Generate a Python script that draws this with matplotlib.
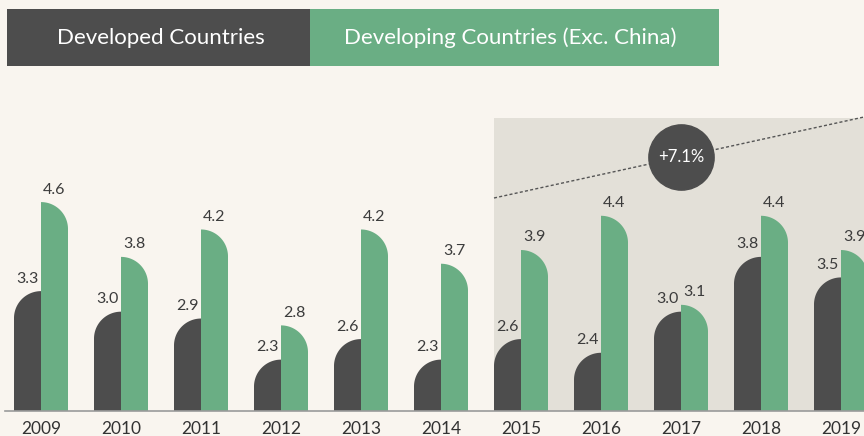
import numpy as np
import matplotlib
matplotlib.use("Agg")
import matplotlib.pyplot as plt
from matplotlib.patches import Polygon, Rectangle

years = ["2009", "2010", "2011", "2012", "2013", "2014", "2015", "2016", "2017", "2018", "2019"]
developed = [3.3, 3.0, 2.9, 2.3, 2.6, 2.3, 2.6, 2.4, 3.0, 3.8, 3.5]
developing = [4.6, 3.8, 4.2, 2.8, 4.2, 3.7, 3.9, 4.4, 3.1, 4.4, 3.9]
series_names = ["Developed Countries", "Developing Countries (Exc. China)"]
growth_label = "+7.1%"

BG = "#f9f5ef"
SHADE = "#e3e0d8"
DARK = "#4d4d4d"
GREEN = "#6aae84"
TXT = "#3c3c3c"

plt.rcParams['font.family'] = ['Lato', 'DejaVu Sans']

W, H = 864, 436
fig = plt.figure(figsize=(W / 100, H / 100), dpi=100, facecolor=BG)

base_px = 411
px_per_unit = 68.5
base_val = 1.55
ax = fig.add_axes([0, 1 - base_px / H, 1, base_px / H])
ax.set_facecolor(BG)
x_first_px = 41
group_px = 80
ax.set_xlim(-x_first_px / group_px, (W - x_first_px) / group_px)
ax.set_ylim(base_val, base_val + base_px / px_per_unit)
for s in ax.spines.values():
    s.set_visible(False)
ax.set_yticks([])

bw = 27 / group_px
ry = 27 / px_per_unit

# shaded region
shade_x0 = 6 - bw
shade_top = base_val + (base_px - 118) / px_per_unit
ax.add_patch(Rectangle((shade_x0, base_val), 20, shade_top - base_val,
                       facecolor=SHADE, edgecolor="none", zorder=0))

# dashed trend line
x_end = (W - x_first_px) / group_px
y0 = base_val + (base_px - 198) / px_per_unit
y1 = base_val + (base_px - 117) / px_per_unit
ax.plot([shade_x0, x_end], [y0, y1], linestyle=(0, (2.2, 1.6)), color="#555555",
        lw=1.0, zorder=1)
cx = 8.0
cy = y0 + (y1 - y0) * (cx - shade_x0) / (x_end - shade_x0)
ax.plot([cx], [cy], 'o', ms=47, color=DARK, zorder=2)
ax.text(cx, cy, growth_label, color="white", fontsize=12, ha="center", va="center", zorder=3)

t = np.linspace(0, np.pi / 2, 40)
for i, (d, g) in enumerate(zip(developed, developing)):
    # developed: rounded top-left
    xr = i
    cxl, cyl = xr, d - ry
    arc = [(cxl - bw * np.cos(a), cyl + ry * np.sin(a)) for a in t]
    pts = [(xr - bw, base_val)] + arc + [(xr, d), (xr, base_val)]
    ax.add_patch(Polygon(pts, closed=True, facecolor=DARK, edgecolor="none", zorder=3))
    # developing: rounded top-right
    cxr, cyr = i, g - ry
    arc = [(cxr + bw * np.sin(a), cyr + ry * np.cos(a)) for a in t]
    pts = [(i, base_val), (i, g)] + arc + [(i + bw, base_val)]
    ax.add_patch(Polygon(pts, closed=True, facecolor=GREEN, edgecolor="none", zorder=3))
    ax.annotate(f"{d:.1f}", (i - bw / 2, d), xytext=(0, 4), textcoords="offset points",
                ha="center", va="bottom", fontsize=11.5, color=TXT, zorder=4)
    ax.annotate(f"{g:.1f}", (i + bw / 2, g), xytext=(0, 4), textcoords="offset points",
                ha="center", va="bottom", fontsize=11.5, color=TXT, zorder=4)

# baseline
ax.axhline(base_val, xmin=5 / W, xmax=1, color="#9a9a9a", lw=1.2, zorder=5, clip_on=False)

ax.set_xticks(range(len(years)))
ax.set_xticklabels(years, fontsize=12.5, color="#333333")
ax.tick_params(axis="x", length=0, pad=7)

# legend boxes (figure pixel coordinates)
def fig_rect(x0, y0, x1, y1, color):
    fig.patches.append(Rectangle((x0 / W, 1 - y1 / H), (x1 - x0) / W, (y1 - y0) / H,
                                 transform=fig.transFigure, facecolor=color,
                                 edgecolor="none", zorder=0))

fig_rect(7, 9, 310, 66, DARK)
fig_rect(310, 9, 719, 66, GREEN)
fig.text(161 / W, 1 - 38 / H, series_names[0], color="white", fontsize=16,
         ha="center", va="center")
fig.text(510 / W, 1 - 38 / H, series_names[1], color="white", fontsize=16,
         ha="center", va="center")

fig.savefig("out.png", dpi=100, facecolor=BG)
